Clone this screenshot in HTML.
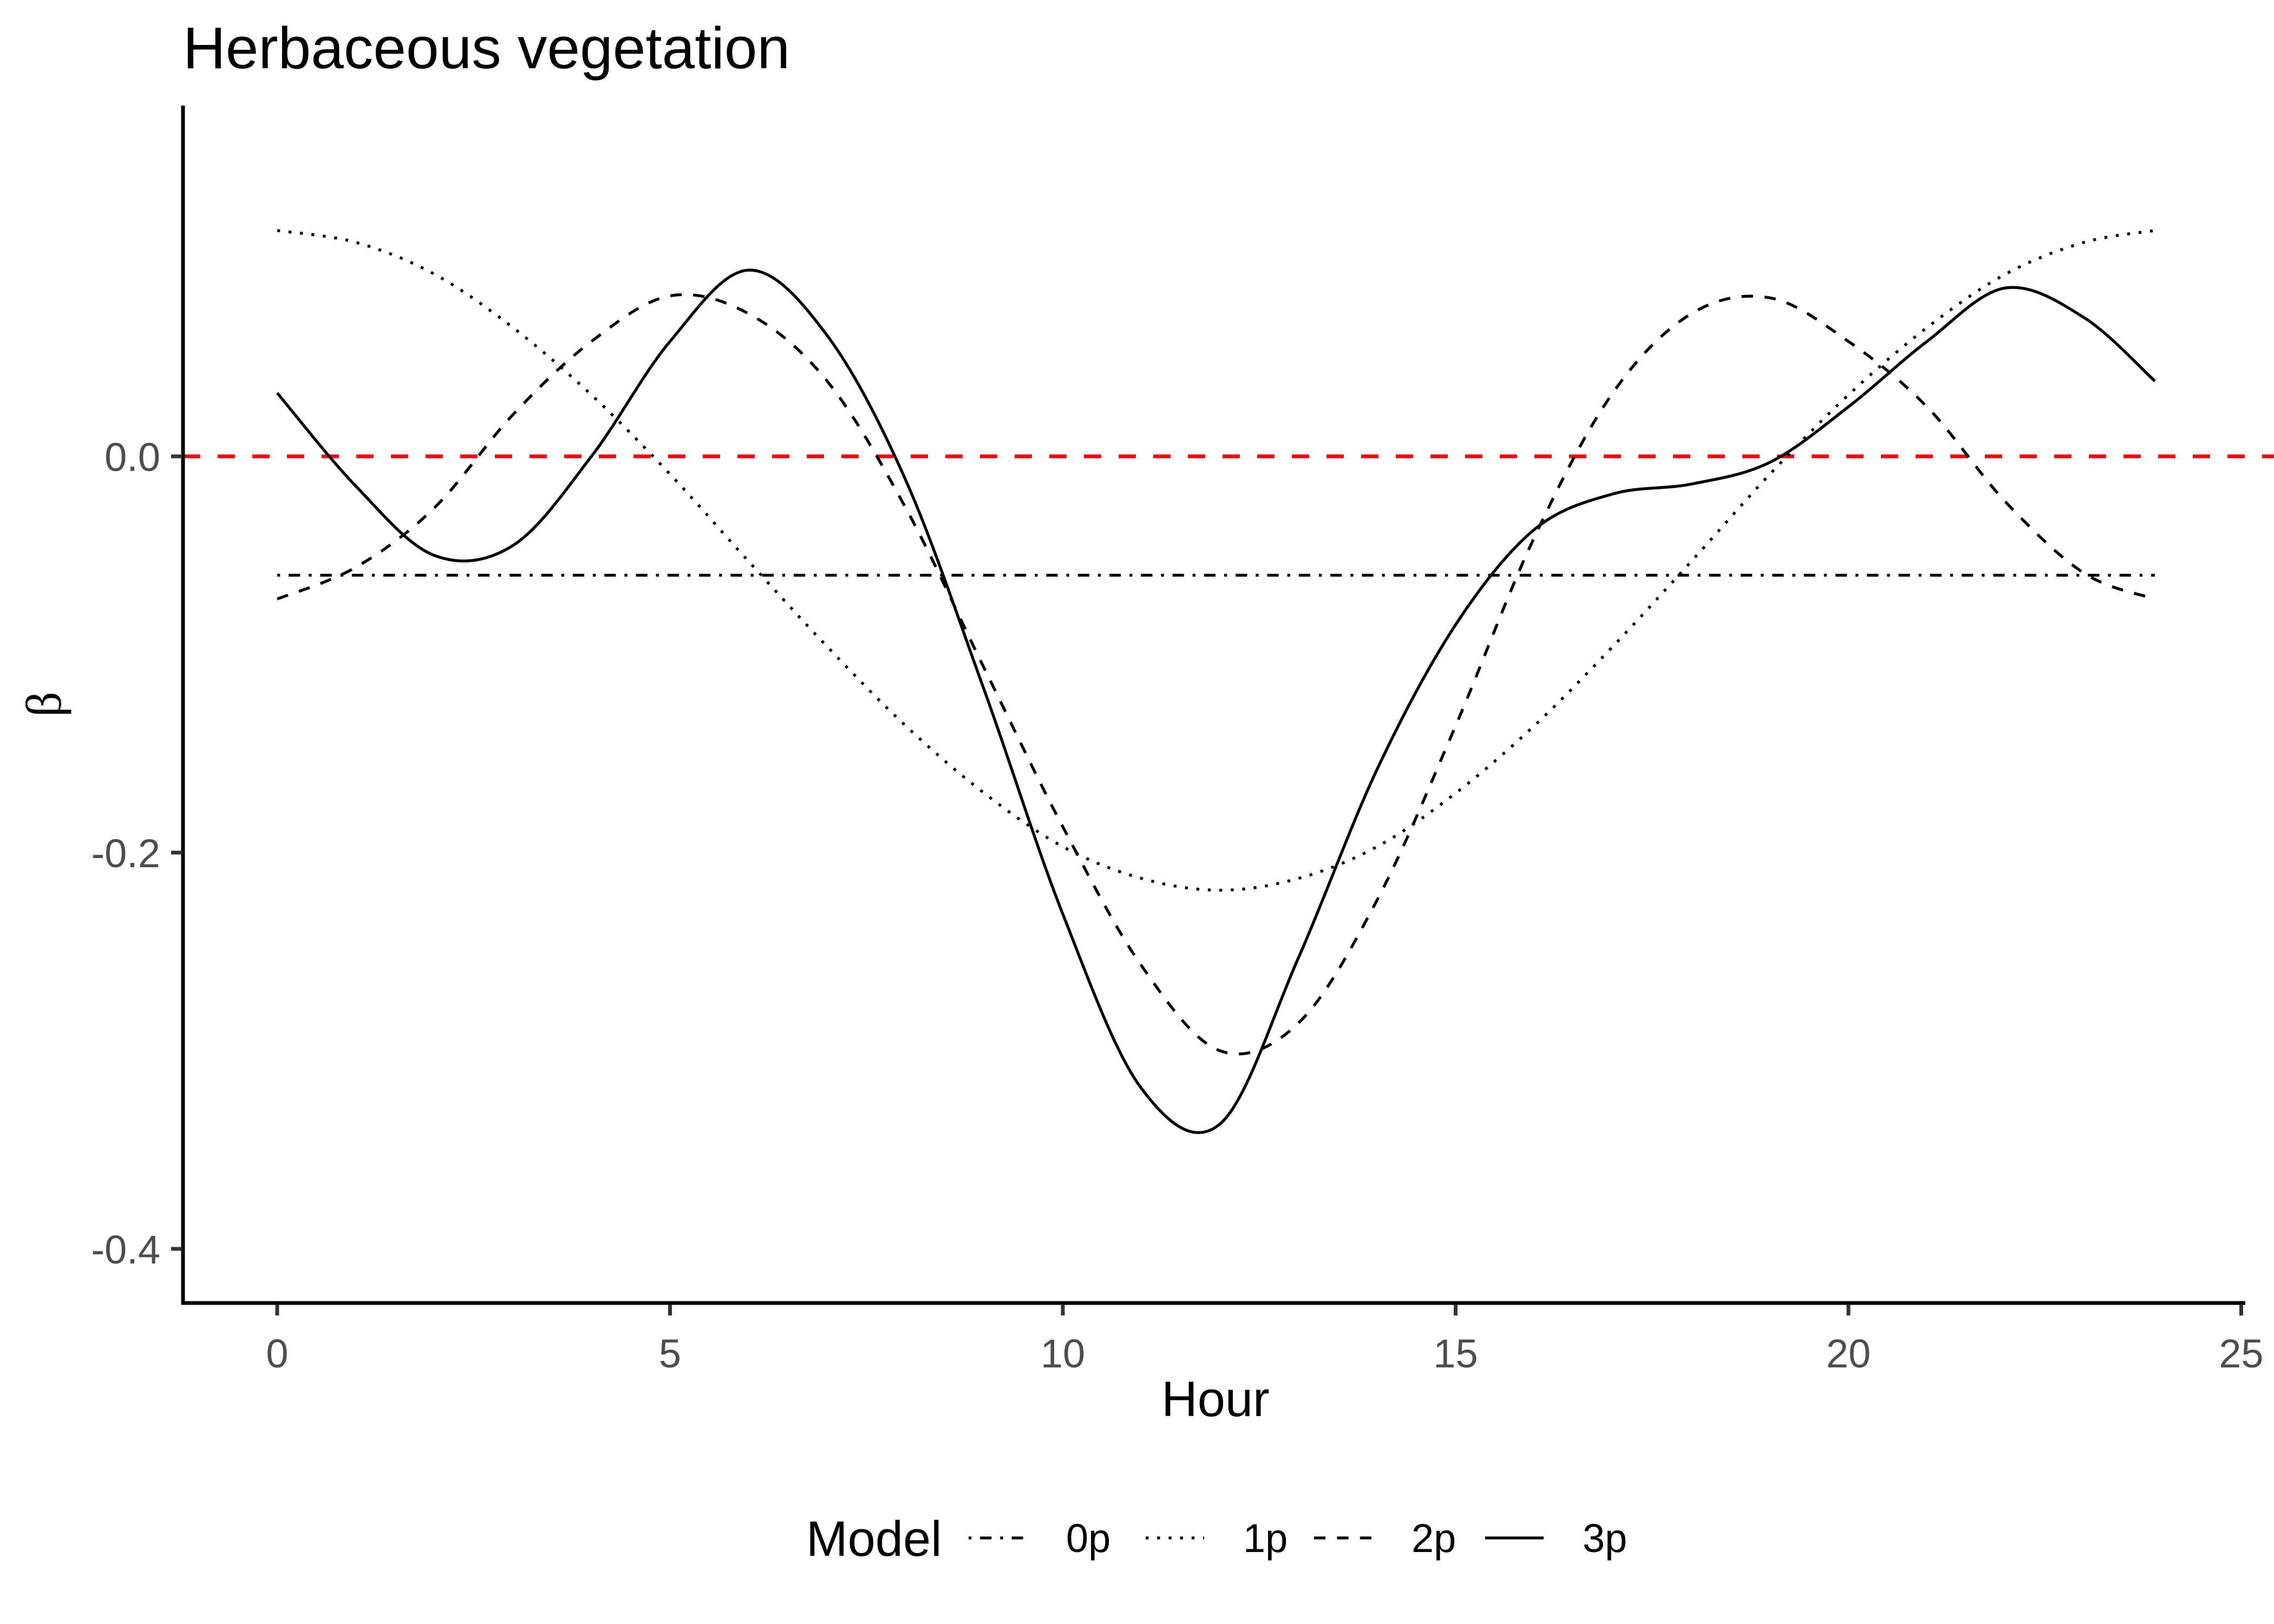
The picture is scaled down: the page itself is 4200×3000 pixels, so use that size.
<!DOCTYPE html>
<html><head><meta charset="utf-8">
<style>
html,body{margin:0;padding:0;background:#fff;}
svg{display:block;}
text{font-family:"Liberation Sans",Arial,sans-serif;}
</style></head>
<body>
<svg id="chart" width="4200" height="3000" viewBox="0 0 4200 3000" xmlns="http://www.w3.org/2000/svg">
<rect width="4200" height="3000" fill="#fff"/>
<text x="338" y="126" font-size="109" fill="#000">Herbaceous vegetation</text>
<g id="plot"></g>
<g id="axes"></g>
<text x="2245" y="2616" font-size="92" text-anchor="middle" fill="#000">Hour</text>
<text transform="translate(112,1301) rotate(-90)" font-size="92" text-anchor="middle" fill="#000" style="font-family:'Liberation Serif',serif">β</text>
<g id="legend">
<text x="1489" y="2874" font-size="92" fill="#000">Model</text>
</g>
</svg>
<script>
const hours = [0,1,2,3,4,5,6,7,8,9,10,11,12,13,14,15,16,17,18,19,20,21,22,23,23.9];
const series0p = [-0.060,-0.060,-0.060,-0.060,-0.060,-0.060,-0.060,-0.060,-0.060,-0.060,-0.060,-0.060,-0.060,-0.060,-0.060,-0.060,-0.060,-0.060,-0.060,-0.060,-0.060,-0.060,-0.060,-0.060,-0.060];
const series1p = [0.114,0.108,0.092,0.065,0.031,-0.009,-0.053,-0.096,-0.136,-0.170,-0.197,-0.213,-0.219,-0.213,-0.197,-0.170,-0.136,-0.096,-0.053,-0.009,0.031,0.065,0.092,0.108,0.114];
const series2p = [-0.072,-0.056,-0.026,0.021,0.058,0.081,0.072,0.038,-0.026,-0.107,-0.187,-0.257,-0.300,-0.286,-0.224,-0.136,-0.041,0.032,0.072,0.080,0.058,0.025,-0.023,-0.059,-0.072];
const series3p = [0.032,-0.015,-0.050,-0.045,0.000,0.058,0.094,0.061,-0.012,-0.118,-0.231,-0.319,-0.337,-0.253,-0.158,-0.085,-0.037,-0.019,-0.014,-0.003,0.025,0.058,0.085,0.070,0.038];
const xTicks = [0,5,10,15,20,25];
const xTickLabels = ["0","5","10","15","20","25"];
const yTicks = [0,-0.2,-0.4];
const yTickLabels = ["0.0","-0.2","-0.4"];
const refLine = 0;
const modelNames = ["0p","1p","2p","3p"];

const NS="http://www.w3.org/2000/svg";
function X(h){return 512+145.1*h;}
function Y(v){return 843-3660*v;}
function mk(tag,attrs,parent){const e=document.createElementNS(NS,tag);for(const k in attrs)e.setAttribute(k,attrs[k]);parent.appendChild(e);return e;}
const plot=document.getElementById('plot'), axes=document.getElementById('axes'), legend=document.getElementById('legend');
const W=5.3;
const dashes={"0p":`${W} ${3*W} ${4*W} ${3*W}`,"1p":`${W} ${3*W}`,"2p":`${4*W} ${4*W}`,"3p":""};

function smoothPath(xs,ys){
  const p=xs.map((h,i)=>[X(h),Y(ys[i])]);
  let d=`M${p[0][0].toFixed(1)},${p[0][1].toFixed(1)}`;
  for(let i=0;i<p.length-1;i++){
    const p0=p[i-1]||p[i],p1=p[i],p2=p[i+1],p3=p[i+2]||p[i+1];
    const c1=[p1[0]+(p2[0]-p0[0])/6,p1[1]+(p2[1]-p0[1])/6];
    const c2=[p2[0]-(p3[0]-p1[0])/6,p2[1]-(p3[1]-p1[1])/6];
    d+=`C${c1[0].toFixed(1)},${c1[1].toFixed(1)} ${c2[0].toFixed(1)},${c2[1].toFixed(1)} ${p2[0].toFixed(1)},${p2[1].toFixed(1)}`;
  }
  return d;
}

// reference line
const rl=mk('line',{x1:338,x2:4200,y1:Y(refLine),y2:Y(refLine),stroke:'#ff0000','stroke-width':7,'stroke-dasharray':'32 32'},plot);



const allSeries=[series0p,series1p,series2p,series3p];
allSeries.forEach((s,i)=>{
  const name=modelNames[i];
  const path=mk('path',{d:smoothPath(hours,s),fill:'none',stroke:'#000','stroke-width':W,'stroke-dasharray':dashes[name]},plot);
  
  
});

// axes
const ya=mk('line',{x1:338,x2:338,y1:195,y2:2410,stroke:'#000','stroke-width':7},axes);


const xa=mk('line',{x1:335,x2:4147,y1:2407,y2:2407,stroke:'#000','stroke-width':7},axes);


xTicks.forEach((t,i)=>{
  const tk=mk('line',{x1:X(t),x2:X(t),y1:2410,y2:2430,stroke:'#333','stroke-width':7},axes);
  
  
  const lb=mk('text',{x:X(t),y:2526,'font-size':74,'text-anchor':'middle',fill:'#4d4d4d'},axes);
  lb.textContent=xTickLabels[i];
  
  
});
yTicks.forEach((t,i)=>{
  const tk=mk('line',{x1:316,x2:336,y1:Y(t),y2:Y(t),stroke:'#333','stroke-width':7},axes);
  
  
  const lb=mk('text',{x:296,y:Y(t)+27,'font-size':74,'text-anchor':'end',fill:'#4d4d4d'},axes);
  lb.textContent=yTickLabels[i];
  
  
});

// legend
const keyX=[1789,2116,2427,2743];
modelNames.forEach((n,i)=>{
  const g=mk('g',{},legend);
  
  
  const ln=mk('line',{x1:keyX[i],x2:keyX[i]+108,y1:2841,y2:2841,stroke:'#000','stroke-width':W,'stroke-dasharray':dashes[n]},g);
  
  
  const tx=mk('text',{x:keyX[i]+180,y:2867,'font-size':74,fill:'#000'},g);
  tx.textContent=n;
  
  
});
</script>
</body></html>
